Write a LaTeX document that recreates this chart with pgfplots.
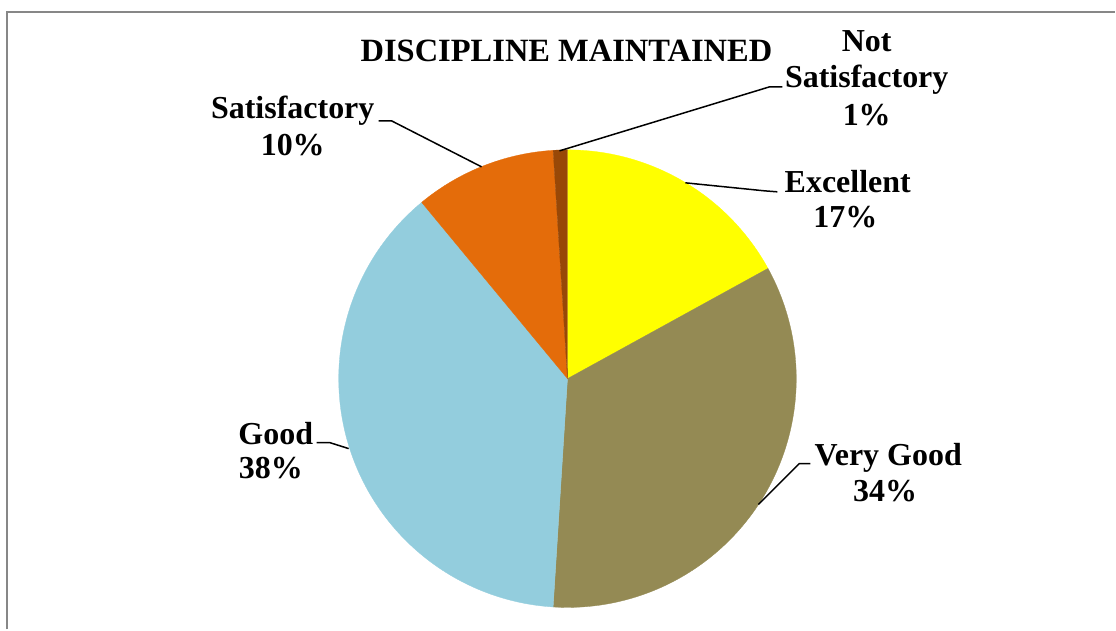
\documentclass[border=0pt]{standalone}
\usepackage{pgfplots}
\usepackage{pgfplotstable}
\pgfplotsset{compat=1.18}
\usepackage{fontspec}
\setmainfont{Liberation Serif}
\definecolor{cExc}{HTML}{FFFF00}
\definecolor{cVG}{HTML}{948A54}
\definecolor{cGood}{HTML}{93CDDD}
\definecolor{cSat}{HTML}{E46C0A}
\definecolor{cNS}{HTML}{984807}
\definecolor{frame}{HTML}{878787}
\pgfplotstableread{
label value
Excellent 17
VeryGood 34
Good 38
Satisfactory 10
NotSatisfactory 1
}\datatable
\begin{document}
\begin{tikzpicture}
\pgfplotstablegetelem{0}{value}\of\datatable \let\vA\pgfplotsretval
\pgfplotstablegetelem{1}{value}\of\datatable \let\vB\pgfplotsretval
\pgfplotstablegetelem{2}{value}\of\datatable \let\vC\pgfplotsretval
\pgfplotstablegetelem{3}{value}\of\datatable \let\vD\pgfplotsretval
\pgfplotstablegetelem{4}{value}\of\datatable \let\vE\pgfplotsretval
\pgfmathsetmacro\aA{90}
\pgfmathsetmacro\aB{\aA-3.6*\vA}
\pgfmathsetmacro\aC{\aB-3.6*\vB}
\pgfmathsetmacro\aD{\aC-3.6*\vC}
\pgfmathsetmacro\aE{\aD-3.6*\vD}
\pgfmathsetmacro\aF{\aE-3.6*\vE}
\def\cx{568}\def\cy{251}\def\R{229}
\begin{axis}[
  x=1pt, y=1pt, xmin=0, xmax=1116, ymin=0, ymax=630,
  hide axis, clip=false, scale only axis,
  every axis plot/.append style={line join=round},
]
\path (0,0) rectangle (1116,630);
\draw[frame, line width=2pt] (7.5,0) -- (7.5,617.5) -- (1116,617.5);
\addplot[fill=cExc, draw=cExc, line width=0.3pt, domain=\aA:\aB, samples=80, variable=\t] ({\cx+\R*cos(\t)},{\cy+\R*sin(\t)}) -- (\cx,\cy) -- cycle;
\addplot[fill=cVG, draw=cVG, line width=0.3pt, domain=\aB:\aC, samples=120, variable=\t] ({\cx+\R*cos(\t)},{\cy+\R*sin(\t)}) -- (\cx,\cy) -- cycle;
\addplot[fill=cGood, draw=cGood, line width=0.3pt, domain=\aC:\aD, samples=120, variable=\t] ({\cx+\R*cos(\t)},{\cy+\R*sin(\t)}) -- (\cx,\cy) -- cycle;
\addplot[fill=cSat, draw=cSat, line width=0.3pt, domain=\aD:\aE, samples=50, variable=\t] ({\cx+\R*cos(\t)},{\cy+\R*sin(\t)}) -- (\cx,\cy) -- cycle;
\addplot[fill=cNS, draw=cNS, line width=0.3pt, domain=\aE:\aF, samples=10, variable=\t] ({\cx+\R*cos(\t)},{\cy+\R*sin(\t)}) -- (\cx,\cy) -- cycle;
% leader lines
\draw[black, line width=1.5pt] (560,479) -- (770,543) -- (783,543);
\draw[black, line width=1.5pt] (379,509) -- (392,509) -- (482,463);
\draw[black, line width=1.5pt] (686,447) -- (765,439) -- (778,438);
\draw[black, line width=1.5pt] (759,125) -- (800,166) -- (811,166);
\draw[black, line width=1.5pt] (317,187) -- (330,187) -- (349,181);
% texts
\tikzset{lbl/.style={anchor=base, inner sep=0pt, font=\fontsize{32}{36}\selectfont\bfseries}}
\node[lbl, font=\fontsize{32.5}{36}\selectfont\bfseries] at (567,568) {DISCIPLINE MAINTAINED};
\node[lbl] at (867.5,578) {Not};
\node[lbl] at (867.5,542) {Satisfactory};
\node[lbl] at (867.5,504) {1\%};
\node[lbl] at (293,511) {Satisfactory};
\node[lbl] at (293,474) {10\%};
\node[lbl] at (848.5,437) {Excellent};
\node[lbl] at (846,402) {17\%};
\node[lbl] at (889,164.5) {Very Good};
\node[lbl] at (886,128.5) {34\%};
\node[lbl] at (276,185) {Good};
\node[lbl] at (271,151.5) {38\%};
\end{axis}
\end{tikzpicture}
\end{document}
